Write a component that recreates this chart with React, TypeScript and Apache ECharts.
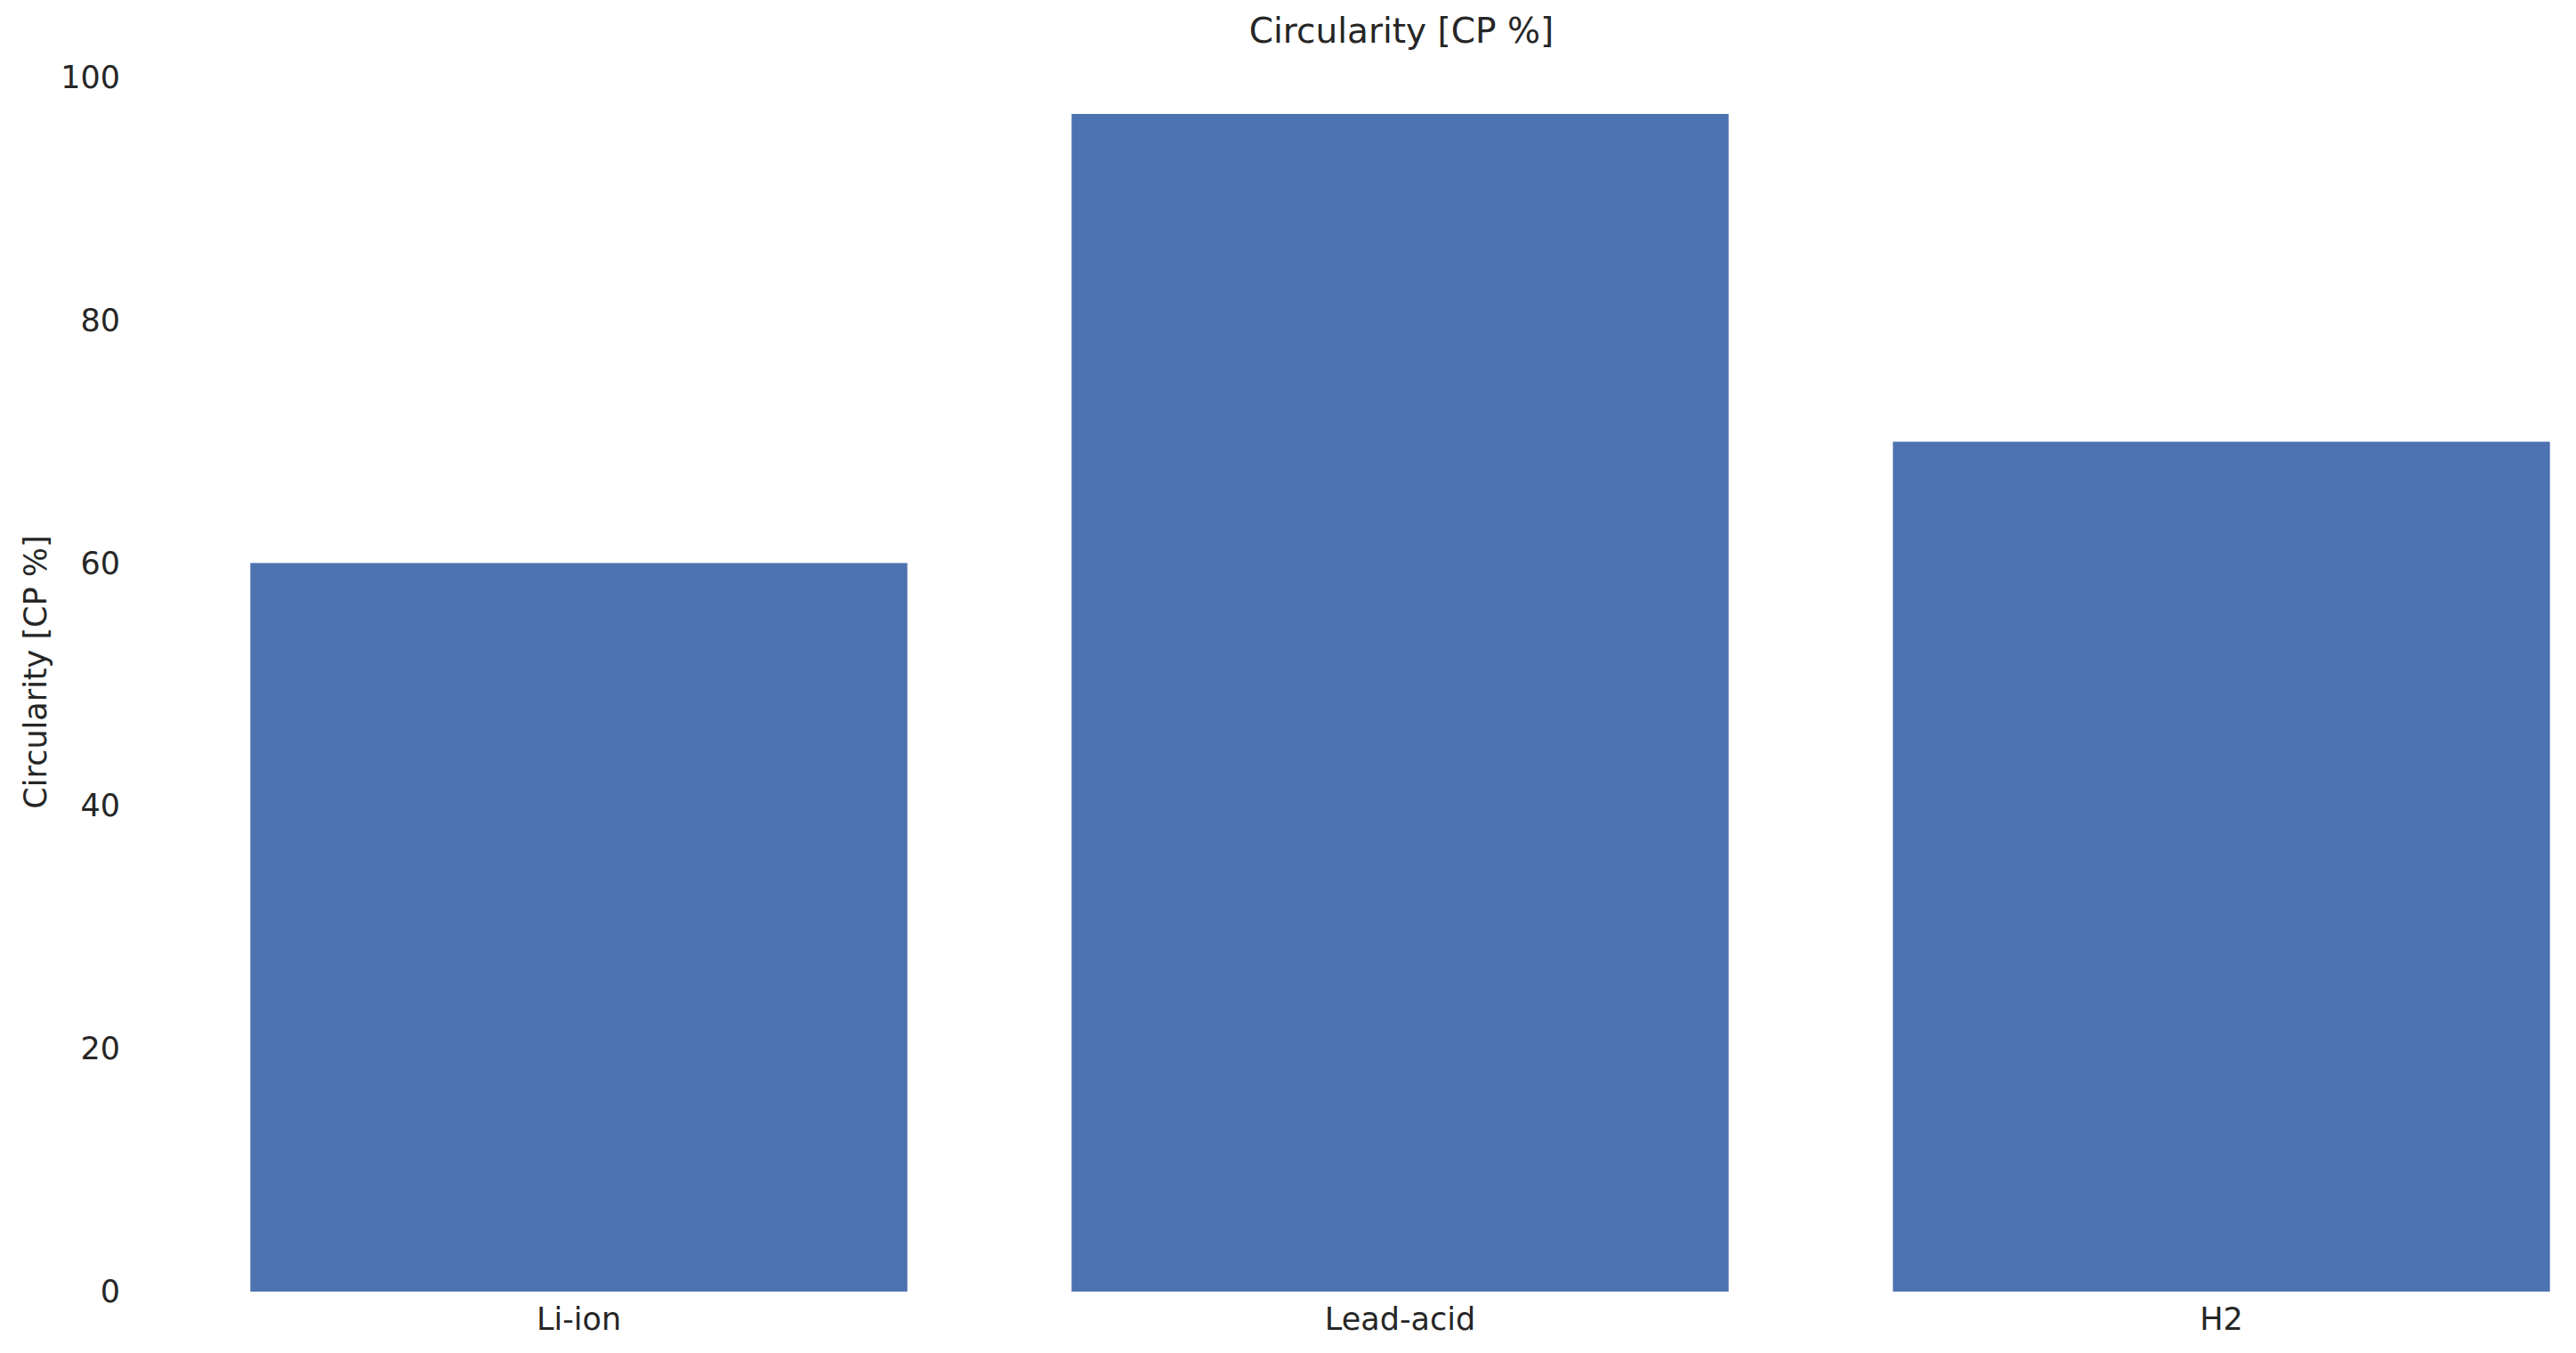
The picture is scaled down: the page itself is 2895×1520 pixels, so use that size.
import React, { useEffect, useRef } from "react";
import * as echarts from "echarts";

const categories = ["Li-ion", "Lead-acid", "H2"];
const circularity = [60, 97, 70];
const yTicks = [0, 20, 40, 60, 80, 100];

export default function App() {
  const ref = useRef<HTMLDivElement>(null);
  useEffect(() => {
    document.body.style.margin = "0";
    if (!ref.current) return;
    const chart = echarts.init(ref.current, undefined, { renderer: "svg" });
    const font = "DejaVu Sans";
    const textColor = "#262626";
    chart.setOption({
      animation: false,
      backgroundColor: "#ffffff",
      title: {
        text: "Circularity [CP %]",
        left: 1570,
        top: 10,
        textAlign: "center",
        textStyle: { fontFamily: font, fontSize: 39, fontWeight: "normal", color: textColor },
      },
      grid: { left: 189, top: 87, width: 2769, height: 1364, containLabel: false },
      xAxis: {
        type: "category",
        data: categories,
        axisLine: { show: false },
        axisTick: { show: false },
        splitLine: { show: false },
        axisLabel: { fontFamily: font, fontSize: 35, color: textColor, margin: 13 },
      },
      yAxis: {
        type: "value",
        min: yTicks[0],
        max: yTicks[yTicks.length - 1],
        interval: 20,
        name: "Circularity [CP %]",
        nameLocation: "middle",
        nameGap: 124,
        nameTextStyle: { fontFamily: font, fontSize: 35, color: textColor, padding: [0, 0, 0, 28] },
        axisLine: { show: false },
        axisTick: { show: false },
        splitLine: { show: false },
        axisLabel: { fontFamily: font, fontSize: 35, color: textColor, margin: 54 },
      },
      series: [
        {
          type: "bar",
          data: circularity,
          barCategoryGap: "20%",
          itemStyle: { color: "#4c72b0" },
        },
      ],
    });
    return () => chart.dispose();
  }, []);
  return (
    <div style={{ width: 2895, height: 1520, position: "absolute", left: 0, top: 0, overflow: "hidden" }}>
      <div ref={ref} style={{ width: 2970, height: 1520 }} />
    </div>
  );
}
